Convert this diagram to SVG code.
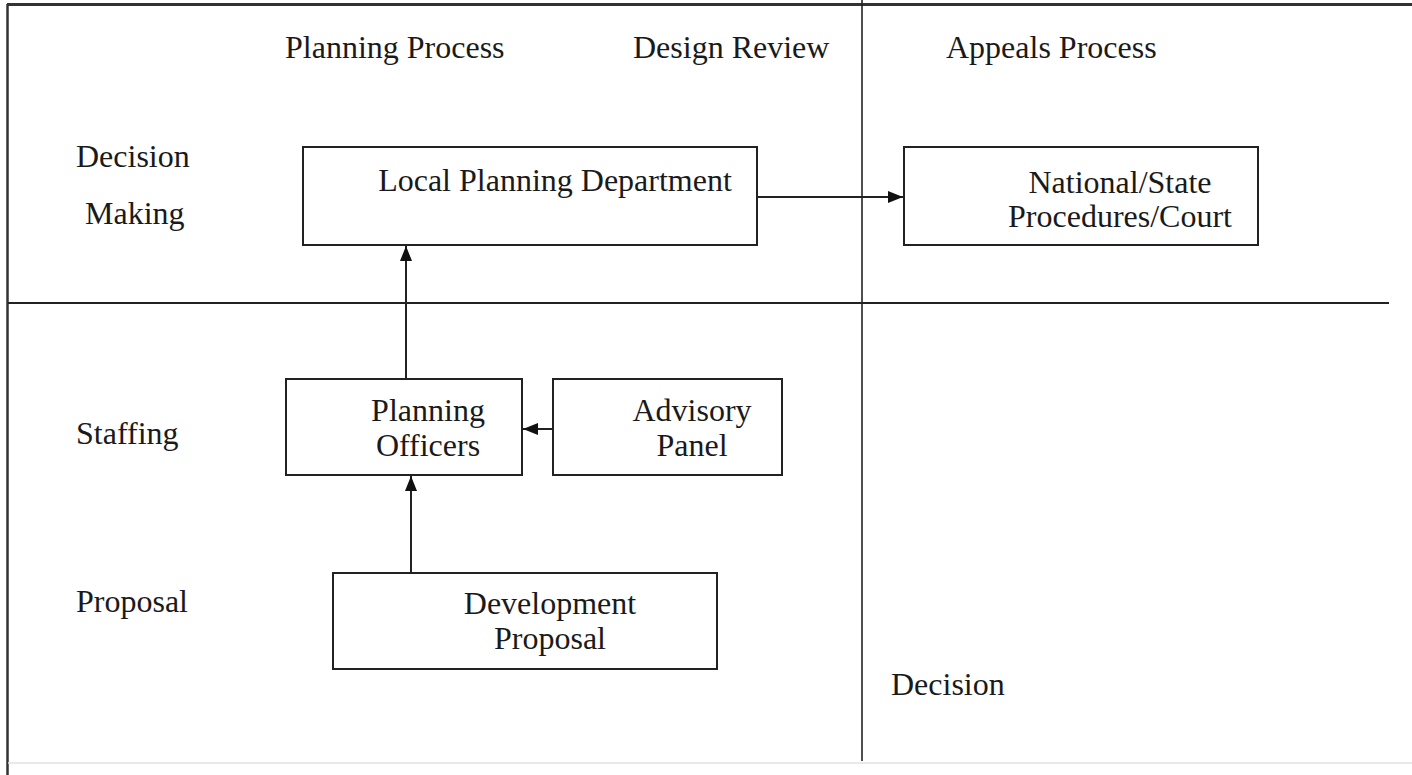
<svg xmlns="http://www.w3.org/2000/svg" width="1412" height="775" viewBox="0 0 1412 775">
<defs>
<style>
text{font-family:"Liberation Serif","Times New Roman",serif;font-size:32px;fill:#1a1a1a}
.box{fill:#fff;stroke:#222;stroke-width:2}
.c{text-anchor:middle}
.ln{stroke:#222;stroke-width:2;fill:none}
.div{stroke:#222;stroke-width:1.6;fill:none}
</style>
<marker id="ah" viewBox="0 0 15 12" refX="15" refY="6" markerWidth="15" markerHeight="12" markerUnits="userSpaceOnUse" orient="auto">
<path d="M0,0 L15,6 L0,12 z" fill="#111"/>
</marker>
</defs>
<rect width="1412" height="775" fill="#fff"/>
<g id="frame">
<line x1="7" y1="4.5" x2="1412" y2="4.5" stroke="#333" stroke-width="3"/>
<line x1="7.5" y1="4" x2="7.5" y2="775" stroke="#333" stroke-width="2.5"/>
<line x1="8" y1="763" x2="1412" y2="763" stroke="#e2e2e2" stroke-width="1.5"/>
<line class="div" x1="862" y1="0" x2="862" y2="761"/>
<line class="ln" x1="8" y1="303" x2="1389" y2="303"/>
</g>
<g id="headers">
<text x="285" y="58">Planning Process</text>
<text x="633" y="58">Design Review</text>
<text x="946" y="58">Appeals Process</text>
</g>
<g id="rows">
<text x="76" y="167">Decision</text>
<text x="85" y="224">Making</text>
<text x="76" y="444">Staffing</text>
<text x="76" y="612">Proposal</text>
<text x="891" y="695">Decision</text>
</g>
<g id="local-planning">
<rect class="box" x="303" y="147" width="454" height="98"/>
<text class="c" x="555" y="191">Local Planning Department</text>
</g>
<g id="national">
<rect class="box" x="904" y="147" width="354" height="98"/>
<text class="c" x="1120" y="193">National/State</text>
<text class="c" x="1120" y="227">Procedures/Court</text>
</g>
<g id="planning-officers">
<rect class="box" x="286" y="379" width="236" height="96"/>
<text class="c" x="428" y="421">Planning</text>
<text class="c" x="428" y="456">Officers</text>
</g>
<g id="advisory">
<rect class="box" x="553" y="379" width="229" height="96"/>
<text class="c" x="692" y="421">Advisory</text>
<text class="c" x="692" y="456">Panel</text>
</g>
<g id="development">
<rect class="box" x="333" y="573" width="384" height="96"/>
<text class="c" x="550" y="614">Development</text>
<text class="c" x="550" y="649">Proposal</text>
</g>
<g id="connectors">
<line class="ln" x1="406" y1="379" x2="406" y2="246" marker-end="url(#ah)"/>
<line class="ln" x1="757" y1="197" x2="903" y2="197" marker-end="url(#ah)"/>
<line class="ln" x1="553" y1="429" x2="523" y2="429" marker-end="url(#ah)"/>
<line class="ln" x1="411" y1="573" x2="411" y2="476" marker-end="url(#ah)"/>
</g>
</svg>
